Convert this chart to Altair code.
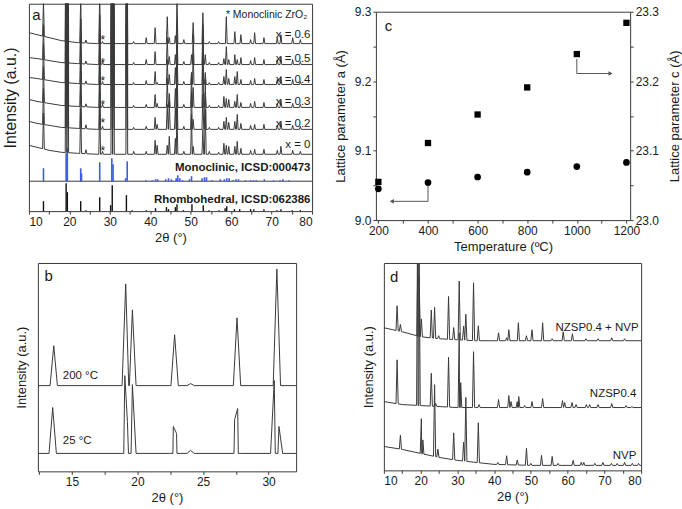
import numpy as np
import pandas as pd
import altair as alt

FONT = "Liberation Sans"
INK = "#1a1a1a"
CURVE = "#3a3a3a"
BLUE = "#3d5be3"

# ---------------- panel a : XRD of the x-series (peak positions / heights) ----
A_POS = [13.6, 19.2, 19.6, 22.8, 24.1, 27.5, 28.2, 30.5, 30.9, 34.2,
         35.9, 39.0, 41.2, 41.7, 44.2, 44.7, 46.2, 46.6, 48.3, 50.2,
         50.6, 53.0, 53.6, 54.6, 56.9, 58.2, 58.8, 59.4, 60.9, 61.5,
         62.4, 64.8, 65.8, 68.1, 71.4, 72.3, 75.2, 77.1]
A_SERIES = ["x = 0.6", "x = 0.5", "x = 0.4", "x = 0.3", "x = 0.2", "x = 0"]
A_H_06 = [35, 220, 180, 45, 3, 50, 2, 220, 150, 220,
          2, 6, 16, 0, 27, 6, 8, 48, 4, 0,
          21, 31, 0, 2, 2, 0, 27, 0, 12, 0,
          9, 4, 11, 6, 6, 9, 6, 4]
A_H_05 = [35, 220, 180, 45, 3, 50, 3, 220, 150, 220,
          2, 5, 13, 0, 27, 8, 10, 38, 3, 10,
          30, 40, 10, 2, 2, 6, 18, 5, 10, 5,
          7, 4, 7, 5, 5, 8, 5, 3]
A_H_04 = [36, 220, 180, 45, 3, 50, 3, 220, 150, 220,
          2, 4, 13, 2, 25, 10, 17, 40, 3, 12,
          30, 45, 12, 2, 2, 8, 15, 6, 8, 13,
          5, 4, 6, 5, 5, 8, 5, 3]
A_H_03 = [36, 220, 180, 45, 3, 50, 3, 220, 150, 220,
          2, 3, 13, 4, 29, 14, 19, 45, 3, 35,
          20, 50, 15, 2, 2, 11, 9, 8, 6, 13,
          5, 4, 6, 5, 4, 8, 4, 3]
A_H_02 = [36, 220, 180, 45, 4, 50, 3, 220, 150, 220,
          2, 3, 12, 5, 25, 28, 22, 45, 3, 38,
          10, 35, 50, 2, 2, 8, 12, 7, 8, 15,
          6, 4, 5, 5, 4, 8, 4, 3]
A_H_00 = [36, 220, 180, 45, 4, 50, 3, 220, 150, 220,
          3, 3, 14, 9, 9, 18, 16, 45, 3, 40,
          8, 25, 45, 3, 2, 11, 9, 8, 8, 13,
          6, 4, 5, 5, 4, 8, 4, 3]
A_BASE = [168, 147, 127, 104, 82, 57]
A_BG_X = [10, 12, 15, 18, 22, 27, 80]
A_BG_06 = [11, 9, 6, 3, 1, 0, 0]
A_BG_05 = [7, 6, 4, 2, 1, 0, 0]
A_BG_04 = [7, 6, 4, 2, 1, 0, 0]
A_BG_03 = [8, 6, 4, 2, 1, 0, 0]
A_BG_02 = [8, 6, 4, 2, 1, 0, 0]
A_BG_00 = [9, 7, 4, 2, 1, 0, 0]
A_LABEL_Y = [177, 153, 132, 109, 87, 66]
A_STAR_X = 28.3
A_STAR_Y = [172, 149, 130, 106, 88, 60]

MONO_POS = [13.6, 19.2, 19.5, 22.8, 23.0, 27.5, 30.5, 30.8, 33.9, 34.3,
            38.9, 40.5, 41.3, 41.8, 43.8, 44.5, 45.2, 46.4, 46.8, 47.3,
            48.0, 49.7, 50.2, 52.8, 53.4, 53.9, 55.2, 57.3, 58.3, 58.9,
            59.5, 60.5, 61.2, 61.8, 63.5, 64.8, 65.5, 66.2, 68.2, 70.5,
            72.1, 72.8, 74.3]
MONO_H = [13, 28, 33, 13, 8, 19, 23, 17, 3, 20,
          1, 1, 2, 2, 2, 3, 2, 3, 6, 3,
          1, 2, 5, 3, 4, 4, 1, 2, 2, 3,
          3, 1, 2, 2, 1, 1, 1, 1, 2, 1,
          1, 2, 1]
MONO_BASE = 30
RHOMBO_POS = [13.6, 19.2, 19.5, 22.8, 24.1, 27.5, 30.2, 30.6, 34.1, 35.5,
              39.0, 41.3, 44.0, 44.5, 46.2, 46.6, 48.2, 50.3, 53.1, 54.5,
              57.0, 58.5, 58.9, 60.8, 62.1, 64.8, 65.6, 68.1, 71.3, 72.3,
              75.1, 77.1]
RHOMBO_H = [10, 28, 19, 10, 1, 14, 6, 26, 16, 1,
            1, 3, 4, 2, 4, 7, 1, 7, 6, 1,
            1, 3, 5, 2, 2, 2, 2, 2, 1, 2,
            1, 1]
RHOMBO_BASE = 0

# ---------------- panel b : 200 C vs 25 C ----------------
B_POS_200 = [13.61, 19.10, 19.61, 22.83, 24.05, 27.59, 30.63]
B_H_200 = [40, 102, 76, 51, 2, 68, 117]
B_POS_25 = [13.53, 19.03, 19.23, 19.61, 22.73, 22.98, 24.05, 27.41, 27.64, 30.43, 30.79]
B_H_25 = [46, 78, 32, 69, 27, 20, 3, 34, 45, 73, 27]
B_BASE = [86, 18]
B_LABELS = ["200 °C", "25 °C"]
B_LABEL_Y = [96, 30]

# ---------------- panel c : lattice parameters ----------------
TEMP = [200, 400, 600, 800, 1000, 1200]
LAT_A = [9.045, 9.054, 9.062, 9.069, 9.077, 9.083]
LAT_C = [23.055, 23.111, 23.152, 23.191, 23.239, 23.284]
ARROW_A = {"t": [400, 400], "t2": [400, 258], "v": [9.049, 9.027], "v2": [9.027, 9.027]}
ARROW_A_HEAD = {"t": [254], "v": [9.027]}
ARROW_C = {"t": [1000, 1000], "t2": [1000, 1132], "v": [23.232, 23.211], "v2": [23.211, 23.211]}
ARROW_C_HEAD = {"t": [1136], "v": [23.211]}

# ---------------- panel d : NVP / NZSP0.4 / mixture ----------------
D_SERIES = ["NZSP0.4 + NVP", "NZSP0.4", "NVP"]
D_POS_MIX = [13.6, 14.5, 19.3, 19.6, 20.2, 22.9, 23.8, 24.9, 27.6, 29.0,
             30.5, 31.7, 32.3, 34.4, 35.7, 41.2, 43.4, 44.0, 46.6, 48.8,
             50.3, 53.2, 55.8, 58.8, 61.3, 65.0, 68.3, 72.0, 75.5]
D_H_MIX = [25, 7, 100, 60, 18, 28, 31, 3, 43, 12,
           59, 14, 26, 58, 15, 8, 3, 11, 18, 5,
           11, 18, 2, 9, 7, 2, 2, 3, 2]
D_POS_NZSP = [13.6, 19.2, 19.6, 22.9, 24.1, 27.6, 30.5, 30.9, 34.4, 35.9,
              41.2, 44.0, 44.6, 46.3, 46.7, 48.3, 50.3, 53.2, 58.6, 59.2,
              61.2, 62.3, 65.1, 66.0, 68.3, 72.0, 75.9, 77.5]
D_H_NZSP = [44, 200, 150, 33, 3, 50, 75, 25, 56, 3,
            8, 12, 6, 6, 11, 2, 6, 9, 7, 5,
            5, 3, 3, 3, 3, 4, 2, 1]
D_POS_NVP = [14.5, 20.2, 20.6, 23.8, 24.7, 29.0, 31.7, 32.3, 35.7, 41.0,
             43.4, 46.3, 48.8, 50.0, 52.9, 55.8, 57.4, 61.5, 63.7, 64.4,
             67.4, 69.6, 71.9, 73.5, 75.5, 77.6, 79.3]
D_H_NVP = [14, 35, 14, 72, 8, 27, 19, 64, 40, 2,
           9, 5, 17, 2, 10, 9, 2, 5, 3, 3,
           2, 3, 2, 2, 3, 2, 2]
D_BASE = [130, 63, 5]
D_BG_X = [10, 15, 20, 25, 30, 35, 40, 50, 80]
D_BG_MIX = [13, 9, 4, 2, 1, 0, 0, 0, 0]
D_BG_NZSP = [6, 3, 2, 1, 0, 0, 0, 0, 0]
D_BG_NVP = [19, 16, 12, 8, 5, 3, 1, 0, 0]
D_LABEL_Y = [143, 77, 14]


def profile(name, pos, hts, base, bg_x, bg_y, hw):
    """Join the read peaks (foot, apex, foot) with the read background points."""
    xs, ys = [], []
    peaks = [(p, h) for p, h in zip(pos, hts) if h > 0]
    for bx, by in zip(bg_x, bg_y):
        if any(abs(bx - p) < hw for p, _ in peaks):
            continue
        xs.append(bx)
        ys.append(base + by)
    for p, h in peaks:
        for dx, dh in ((-hw, 0.0), (0.0, h), (hw, 0.0)):
            xx = p + dx
            xs.append(xx)
            ys.append(base + float(np.interp(xx, bg_x, bg_y)) + dh)
    df = pd.DataFrame({"x": xs, "y": ys}).sort_values("x", kind="stable").reset_index(drop=True)
    df["s"] = name
    df["o"] = np.arange(len(df))
    return df


def sticks(pos, hts, base):
    return pd.DataFrame({"x": pos, "y": [base] * len(pos), "y1": [base + h for h in hts]})


def major_only(step):
    return f"abs(datum.value / {step} - round(datum.value / {step})) < 0.001 ? datum.label : ''"


def spacer():
    return alt.Chart(pd.DataFrame({"v": [0]})).mark_point(opacity=0, size=0).encode(
        x=alt.X("v:Q", axis=None), y=alt.Y("v:Q", axis=None)
    ).properties(width=1, height=1, view=alt.ViewBackground(strokeOpacity=0))


# ================= panel a =================
a_heights = [A_H_06, A_H_05, A_H_04, A_H_03, A_H_02, A_H_00]
a_bgs = [A_BG_06, A_BG_05, A_BG_04, A_BG_03, A_BG_02, A_BG_00]
a_df = pd.concat([profile(n, A_POS, h, b, A_BG_X, g, 0.22)
                  for n, h, b, g in zip(A_SERIES, a_heights, A_BASE, a_bgs)])

xa = alt.X("x:Q", scale=alt.Scale(domain=[10, 80], nice=False),
           axis=alt.Axis(title="2θ (°)", values=list(range(10, 81, 5)),
                         labelExpr=major_only(10), titlePadding=4))
ya = alt.Y("y:Q", scale=alt.Scale(domain=[0, 208], nice=False),
           axis=alt.Axis(title="Intensity (a.u.)", labels=False, ticks=False,
                         titlePadding=10, titleFontSize=16, titleY=94))

a_lines = alt.Chart(a_df).mark_line(color=CURVE, strokeWidth=1, clip=True).encode(
    x=xa, y=ya, detail="s:N", order="o:Q")
a_mono = alt.Chart(sticks(MONO_POS, MONO_H, MONO_BASE)).mark_rule(color=BLUE, strokeWidth=1.6).encode(
    x=xa, y=ya, y2="y1:Q")
a_rh = alt.Chart(sticks(RHOMBO_POS, RHOMBO_H, RHOMBO_BASE)).mark_rule(color="#111", strokeWidth=1.4).encode(
    x=xa, y=ya, y2="y1:Q")
a_div = alt.Chart(pd.DataFrame({"y": [MONO_BASE]})).mark_rule(color=CURVE, strokeWidth=1).encode(y=ya)
a_lab = alt.Chart(pd.DataFrame({"x": [79.6] * 6, "y": A_LABEL_Y, "t": A_SERIES})).mark_text(
    align="right", baseline="middle", fontSize=11.5, color=INK).encode(x=xa, y=ya, text="t:N")
a_star = alt.Chart(pd.DataFrame({"x": [A_STAR_X] * 6, "y": A_STAR_Y, "t": ["*"] * 6})).mark_text(
    align="center", baseline="middle", fontSize=12, color=INK).encode(x=xa, y=ya, text="t:N")
a_ref = alt.Chart(pd.DataFrame({"x": [79.6, 79.6], "y": [43, 11],
                                "t": ["Monoclinic, ICSD:000473", "Rhombohedral, ICSD:062386"]})).mark_text(
    align="right", baseline="middle", fontSize=11.5, fontWeight="bold", color=INK).encode(x=xa, y=ya, text="t:N")
a_note_r = alt.Chart(pd.DataFrame({"x": [78.8], "y": [197], "t": ["*  Monoclinic ZrO₂"]})).mark_text(
    align="right", baseline="middle", fontSize=10.5, color=INK).encode(x=xa, y=ya, text="t:N")
a_note_l = alt.Chart(pd.DataFrame({"x": [10.8], "y": [197], "t": ["a"]})).mark_text(
    align="left", baseline="middle", fontSize=15, color=INK).encode(x=xa, y=ya, text="t:N")

chart_a = alt.layer(a_div, a_mono, a_rh, a_lines, a_lab, a_star, a_ref, a_note_r, a_note_l).properties(
    width=284, height=208)

# ================= panel b =================
b_df = pd.concat([
    profile(B_LABELS[0], B_POS_200, B_H_200, B_BASE[0], [12.4, 32.1], [0, 0], 0.28),
    profile(B_LABELS[1], B_POS_25, B_H_25, B_BASE[1], [12.4, 32.1], [0, 0], 0.28),
])
xb = alt.X("x:Q", scale=alt.Scale(domain=[12.4, 32.1], nice=False),
           axis=alt.Axis(title="2θ (°)", values=[12.5, 15, 17.5, 20, 22.5, 25, 27.5, 30],
                         labelExpr=major_only(5), titlePadding=4))
yb = alt.Y("y:Q", scale=alt.Scale(domain=[0, 209], nice=False),
           axis=alt.Axis(title="Intensity (a.u.)", labels=False, ticks=False, titlePadding=9))
b_lines = alt.Chart(b_df).mark_line(color=CURVE, strokeWidth=1, clip=True).encode(
    x=xb, y=yb, detail="s:N", order="o:Q")
b_lab = alt.Chart(pd.DataFrame({"x": [14.3, 14.3], "y": B_LABEL_Y, "t": B_LABELS})).mark_text(
    align="left", baseline="middle", fontSize=11.5, color=INK).encode(x=xb, y=yb, text="t:N")
b_let = alt.Chart(pd.DataFrame({"x": [12.9], "y": [196], "t": ["b"]})).mark_text(
    align="left", baseline="middle", fontSize=15, color=INK).encode(x=xb, y=yb, text="t:N")
chart_b = alt.layer(b_lines, b_lab, b_let).properties(width=259, height=209)

# ================= panel c =================
xc = alt.X("t:Q", scale=alt.Scale(domain=[190, 1215], nice=False),
           axis=alt.Axis(title="Temperature (ºC)", values=list(range(200, 1201, 100)), format="d",
                         labelExpr=major_only(200), titlePadding=4))
ya_vals = [round(9.0 + 0.05 * i, 2) for i in range(7)]
yc_vals = [round(23.0 + 0.05 * i, 2) for i in range(7)]
yl = alt.Y("v:Q", scale=alt.Scale(domain=[9.0, 9.3], nice=False),
           axis=alt.Axis(title="Lattice parameter a (Å)", values=ya_vals, format=".1f",
                         labelExpr=major_only(0.1), titlePadding=7))
yr = alt.Y("v:Q", scale=alt.Scale(domain=[23.0, 23.3], nice=False),
           axis=alt.Axis(title="Lattice parameter c (Å)", orient="right", values=yc_vals, format=".1f",
                         labelExpr=major_only(0.1), titlePadding=10, titleAngle=270,
                         titleBaseline="top"))

c_circ = alt.Chart(pd.DataFrame({"t": TEMP, "v": LAT_A})).mark_point(
    shape="circle", filled=True, size=45, color="#000", opacity=1).encode(x=xc, y=yl)
c_arA = alt.Chart(pd.DataFrame(ARROW_A)).mark_rule(color="#555", strokeWidth=1).encode(
    x=xc, x2="t2:Q", y=yl, y2="v2:Q")
c_arAh = alt.Chart(pd.DataFrame(ARROW_A_HEAD)).mark_point(
    shape="triangle-left", filled=True, size=22, color="#555", opacity=1).encode(x=xc, y=yl)
c_let = alt.Chart(pd.DataFrame({"t": [226], "v": [9.279], "s": ["c"]})).mark_text(
    align="left", baseline="middle", fontSize=15, color=INK).encode(x=xc, y=yl, text="s:N")
c_sq = alt.Chart(pd.DataFrame({"t": TEMP, "v": LAT_C})).mark_point(
    shape="square", filled=True, size=40, color="#000", opacity=1).encode(x=xc, y=yr)
c_arC = alt.Chart(pd.DataFrame(ARROW_C)).mark_rule(color="#555", strokeWidth=1).encode(
    x=xc, x2="t2:Q", y=yr, y2="v2:Q")
c_arCh = alt.Chart(pd.DataFrame(ARROW_C_HEAD)).mark_point(
    shape="triangle-right", filled=True, size=22, color="#555", opacity=1).encode(x=xc, y=yr)
chart_c = alt.layer(
    alt.layer(c_circ, c_arA, c_arAh, c_let),
    alt.layer(c_sq, c_arC, c_arCh),
).resolve_scale(y="independent").properties(width=255, height=209)

# ================= panel d =================
d_df = pd.concat([
    profile(D_SERIES[0], D_POS_MIX, D_H_MIX, D_BASE[0], D_BG_X, D_BG_MIX, 0.3),
    profile(D_SERIES[1], D_POS_NZSP, D_H_NZSP, D_BASE[1], D_BG_X, D_BG_NZSP, 0.3),
    profile(D_SERIES[2], D_POS_NVP, D_H_NVP, D_BASE[2], D_BG_X, D_BG_NVP, 0.3),
])
xd = alt.X("x:Q", scale=alt.Scale(domain=[10, 80], nice=False),
           axis=alt.Axis(title="2θ (°)", values=list(range(10, 81, 5)),
                         labelExpr=major_only(10), titlePadding=4))
yd = alt.Y("y:Q", scale=alt.Scale(domain=[0, 208], nice=False),
           axis=alt.Axis(title="Intensity (a.u.)", labels=False, ticks=False, titlePadding=8))
d_lines = alt.Chart(d_df).mark_line(color=CURVE, strokeWidth=1, clip=True).encode(
    x=xd, y=yd, detail="s:N", order="o:Q")
d_lab = alt.Chart(pd.DataFrame({"x": [79.3, 78.7, 78.7], "y": D_LABEL_Y, "t": D_SERIES})).mark_text(
    align="right", baseline="middle", fontSize=11.5, color=INK).encode(x=xd, y=yd, text="t:N")
d_let = alt.Chart(pd.DataFrame({"x": [11.7], "y": [194], "t": ["d"]})).mark_text(
    align="left", baseline="middle", fontSize=15, color=INK).encode(x=xd, y=yd, text="t:N")
chart_d = alt.layer(d_lines, d_lab, d_let).properties(width=258, height=208)

# ================= assembly =================
c_cell = alt.vconcat(spacer(), chart_c, spacing=0)
row1 = alt.hconcat(spacer(), alt.hconcat(chart_a, c_cell, spacing=20), spacing=0)
row2 = alt.hconcat(spacer(), alt.hconcat(chart_b, chart_d, spacing=65), spacing=13)
fig = alt.vconcat(row1, row2, spacing=8).properties(
    padding={"left": 1, "top": 2, "right": 0, "bottom": 0}
).configure(font=FONT).configure_view(
    stroke=CURVE, strokeWidth=1
).configure_axis(
    labelFont=FONT, titleFont=FONT, labelFontSize=12, titleFontSize=13,
    labelColor=INK, titleColor=INK, tickColor=CURVE, tickSize=3, labelPadding=2,
    domain=False, grid=False, titleFontWeight="normal"
).configure_text(font=FONT)

fig.save("out.html", embed_options={"renderer": "svg", "actions": False})
